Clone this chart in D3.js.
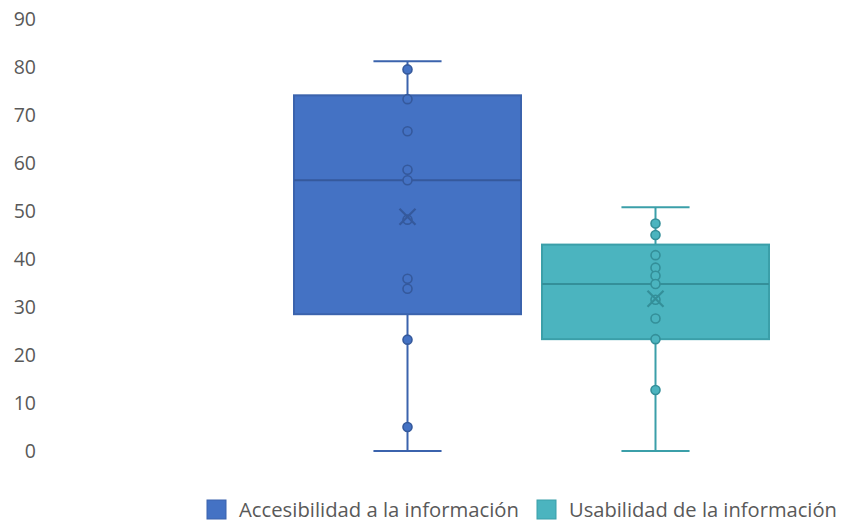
<!DOCTYPE html>
<html>
<head>
<meta charset="utf-8">
<script src="https://cdn.jsdelivr.net/npm/d3@7/dist/d3.min.js"></script>
<style>
  html, body { margin: 0; padding: 0; background: #fff; }
  svg { display: block; }
</style>
</head>
<body>
<svg id="chart" width="841" height="527"></svg>
<script>
// ---- Data ----
const categories = ["Accesibilidad a la información", "Usabilidad de la información"];
const mins    = [0, 0];
const q1s     = [28.5, 23.3];
const medians = [56.4, 34.8];
const q3s     = [74.1, 43.0];
const maxs    = [81.2, 50.8];
const means   = [48.8, 31.7];
const pointsA = [79.5, 73.3, 66.6, 58.6, 56.4, 48.2, 35.9, 33.8, 23.2, 5.0];
const pointsB = [47.4, 45.0, 40.8, 38.2, 36.5, 34.8, 31.5, 27.6, 23.3, 12.7];
const points  = [pointsA, pointsB];
const yTicks  = [0, 10, 20, 30, 40, 50, 60, 70, 80, 90];

// ---- Styles ----
const fills   = ["#4472c4", "#4bb4bf"];
const strokes = ["#3b63ad", "#3b9fa9"];
const darks   = ["#35599c", "#348f99"];

const svg = d3.select("#chart");

const y = d3.scaleLinear().domain([0, 90]).range([451, 19]);
const x = d3.scaleBand().domain(categories).range([294, 769]).paddingInner(0.0847).paddingOuter(0);

// Y axis (labels only)
const yAxis = d3.axisLeft(y).tickValues(yTicks).tickSize(0).tickPadding(0);
const gy = svg.append("g").attr("transform", "translate(36,0)").call(yAxis);
gy.select(".domain").remove();
gy.selectAll("text")
  .attr("font-family", "'Open Sans', sans-serif")
  .attr("font-size", 19.5)
  .attr("fill", "#595959")
  .attr("dy", "0.35em");

const bw = x.bandwidth();
const capW = bw * 0.3;

categories.forEach((c, i) => {
  const g = svg.append("g");
  const cx = x(c) + bw / 2;
  // whiskers
  g.append("line").attr("x1", cx).attr("x2", cx).attr("y1", y(q3s[i])).attr("y2", y(maxs[i]))
    .attr("stroke", strokes[i]).attr("stroke-width", 2);
  g.append("line").attr("x1", cx).attr("x2", cx).attr("y1", y(q1s[i])).attr("y2", y(mins[i]))
    .attr("stroke", strokes[i]).attr("stroke-width", 2);
  g.append("line").attr("x1", cx - capW / 2).attr("x2", cx + capW / 2).attr("y1", y(maxs[i])).attr("y2", y(maxs[i]))
    .attr("stroke", strokes[i]).attr("stroke-width", 2);
  g.append("line").attr("x1", cx - capW / 2).attr("x2", cx + capW / 2).attr("y1", y(mins[i])).attr("y2", y(mins[i]))
    .attr("stroke", strokes[i]).attr("stroke-width", 2);
  // box
  g.append("rect").attr("x", x(c)).attr("width", bw)
    .attr("y", y(q3s[i])).attr("height", y(q1s[i]) - y(q3s[i]))
    .attr("fill", fills[i]).attr("stroke", strokes[i]).attr("stroke-width", 2);
  // median
  g.append("line").attr("x1", x(c)).attr("x2", x(c) + bw).attr("y1", y(medians[i])).attr("y2", y(medians[i]))
    .attr("stroke", darks[i]).attr("stroke-width", 2);
  // points
  g.selectAll("circle.pt").data(points[i]).enter().append("circle")
    .attr("class", "pt")
    .attr("cx", cx).attr("cy", d => y(d)).attr("r", 4.5)
    .attr("fill", fills[i]).attr("stroke", darks[i]).attr("stroke-width", 1.6);
  // mean X
  const m = y(means[i]), s = 8;
  g.append("path")
    .attr("d", `M${cx - s},${m - s}L${cx + s},${m + s}M${cx - s},${m + s}L${cx + s},${m - s}`)
    .attr("stroke", darks[i]).attr("stroke-width", 2.2).attr("fill", "none");
});

// Legend
const legendX = [207, 537];
categories.forEach((c, i) => {
  const g = svg.append("g");
  g.append("rect").attr("x", legendX[i]).attr("y", 500).attr("width", 19).attr("height", 19)
    .attr("fill", fills[i]).attr("stroke", strokes[i]).attr("stroke-width", 1);
  const t = g.append("text").attr("x", legendX[i] + 32).attr("y", 510).attr("dy", "0.35em")
    .attr("font-family", "'Open Sans', sans-serif").attr("font-size", 18)
    .attr("fill", "#595959").text(c);
  const w = t.node().getComputedTextLength();
  const target = i === 0 ? 280 : 268;
  t.attr("font-size", 18 * target / w);
});
</script>
</body>
</html>
